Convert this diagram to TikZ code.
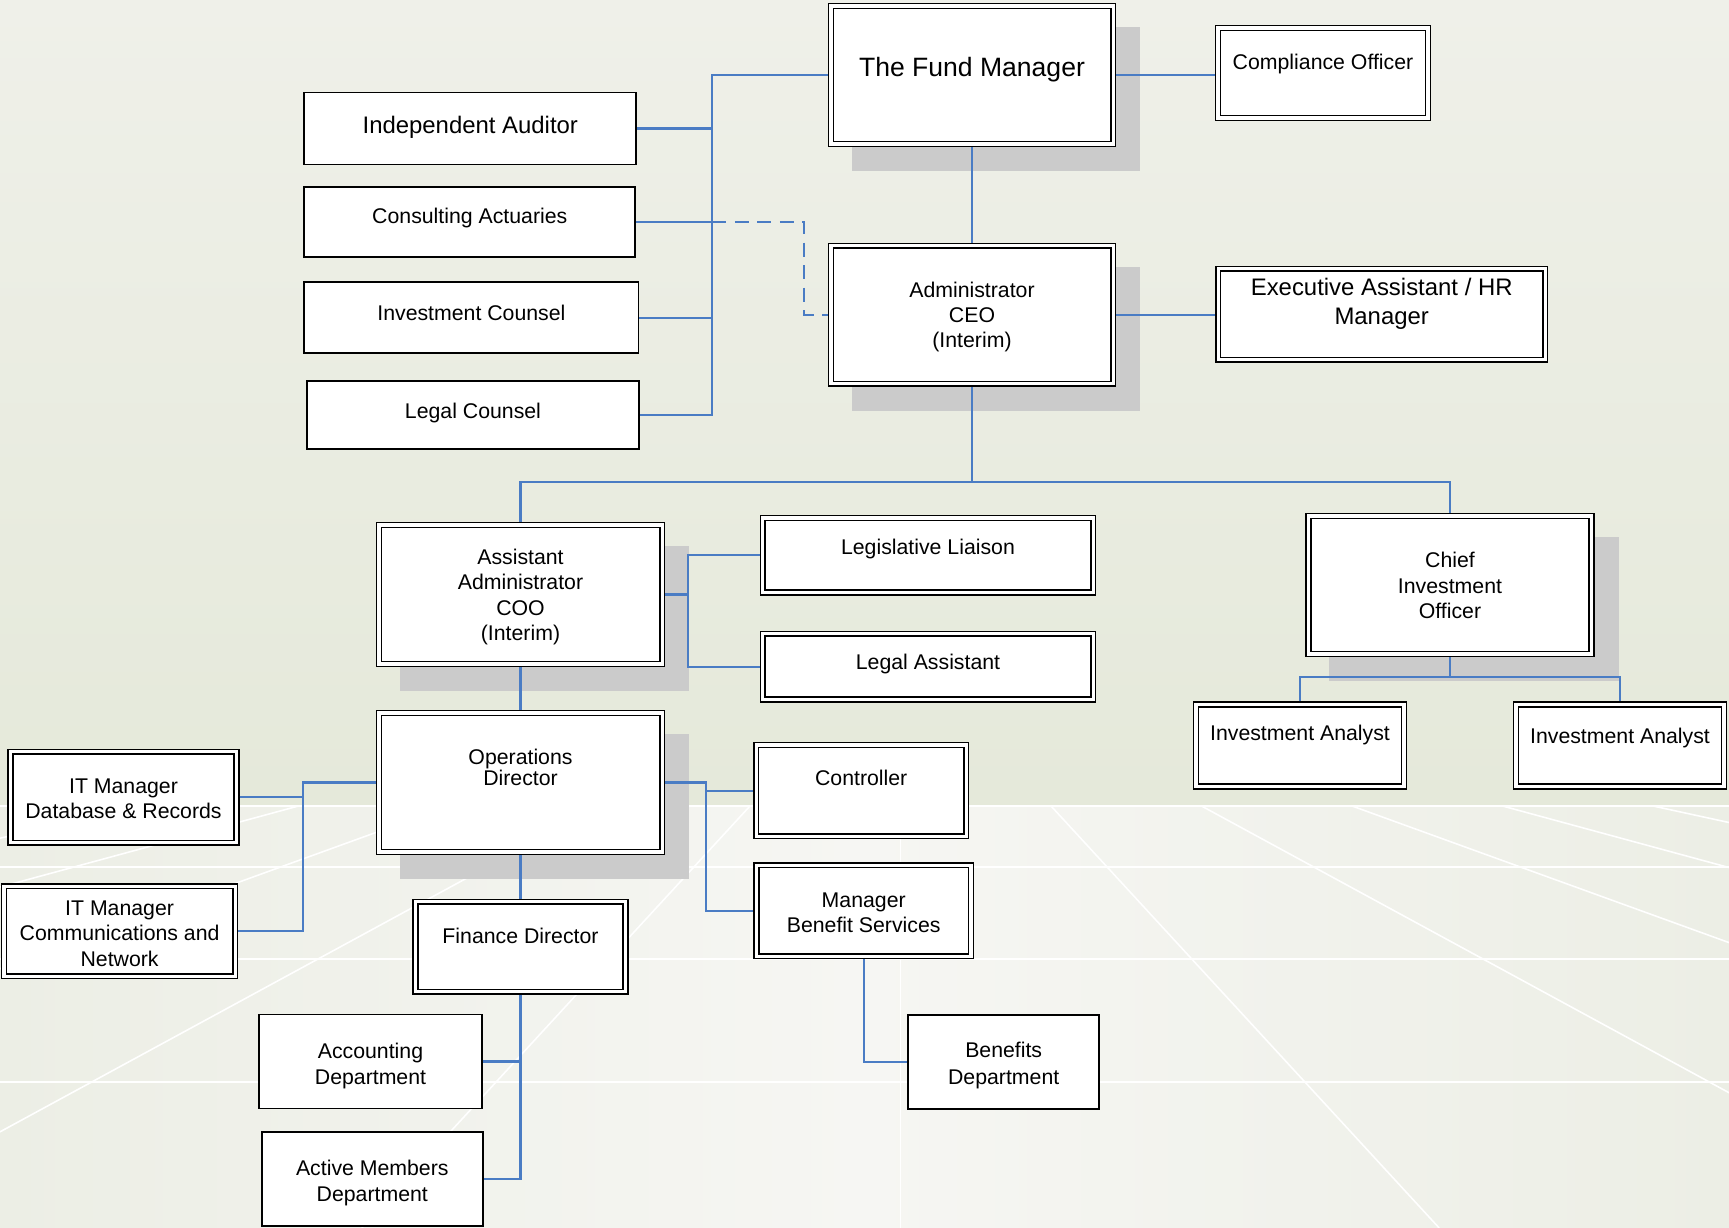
\documentclass[tikz,border=0pt]{standalone}
\usepackage{fontspec}
\setmainfont{Liberation Sans}
\usetikzlibrary{backgrounds}

\definecolor{linkblue}{HTML}{4A7CC4}
\definecolor{shadowgrey}{HTML}{CBCBCB}
\definecolor{skytop}{HTML}{EFF0E9}
\definecolor{skybottom}{HTML}{E5E9DA}
\definecolor{flooredge}{HTML}{ECEEE5}
\definecolor{floormid}{HTML}{F6F6F3}

\newcommand{\orgfont}{\fontsize{6.05}{7.25}\selectfont}
\newcommand{\midorgfont}{\fontsize{6.8}{8.4}\selectfont}
\newcommand{\bigorgfont}{\fontsize{7.55}{9}\selectfont}

\tikzset{
	dbox/.style={draw=black,line width=0.45pt,double=white,double distance=0.9pt,fill=white,inner sep=0pt,outer sep=0.9pt},
	sbox/.style={draw=black,line width=0.55pt,fill=white,inner sep=0pt,outer sep=0.275pt},
	txt/.style={font=\orgfont,align=center,inner sep=0pt},
	link/.style={draw=linkblue,line width=0.6pt},
	dashlink/.style={link,dash pattern=on 4pt off 2.4pt},
	floorline/.style={draw=white,line width=0.45pt},
	boxshadow/.style={fill=shadowgrey},
}

\begin{document}
\begin{tikzpicture}[x=0.01cm,y=-0.01cm]
		\useasboundingbox (0,0) rectangle (1729,1228);
		\begin{pgfonlayer}{background}
			\fill[top color=skytop,bottom color=skybottom] (0,0) rectangle (1729,806);
			\begin{scope}
				\clip (0,806) rectangle (1729,1228);
				\fill[left color=flooredge,right color=flooredge,middle color=floormid] (0,806) rectangle (1729,1228);
				\foreach \k in {-5,...,5}
					\draw[floorline] ({900.5+150.5*\k},806) -- ({900.5+538.7*\k},1228);
				\foreach \yy in {867,959,1082}
					\draw[floorline] (0,\yy) -- (1729,\yy);
			\end{scope}
			\draw[floorline,line width=0.7pt] (0,806) -- (1729,806);
		\end{pgfonlayer}
		
		\node[dbox,minimum width=2.82cm,minimum height=1.38cm] (fund) at (972,75) {};
		\node[txt,font=\bigorgfont] (fund-t) at (972,69.5) {The Fund Manager};
		\node[dbox,minimum width=2.10cm,minimum height=0.90cm] (comp) at (1323,73) {};
		\node[txt] (comp-t) at (1323,64) {Compliance Officer};
		
		\node[sbox,minimum width=3.32cm,minimum height=0.72cm] (aud) at (470.3,128.5) {};
		\node[txt,font=\midorgfont] (aud-t) at (470.3,127) {Independent Auditor};
		\node[sbox,minimum width=3.31cm,minimum height=0.70cm] (act) at (469.8,222.2) {};
		\node[txt] (act-t) at (469.8,218) {Consulting Actuaries};
		\node[sbox,minimum width=3.34cm,minimum height=0.71cm] (invc) at (471.4,317.6) {};
		\node[txt] (invc-t) at (471.4,313) {Investment Counsel};
		\node[sbox,minimum width=3.31cm,minimum height=0.675cm] (legc) at (473,415.2) {};
		\node[txt] (legc-t) at (473,413) {Legal Counsel};
		
		\node[dbox,minimum width=2.82cm,minimum height=1.38cm] (ceo) at (972,314.8) {};
		\node[txt] (ceo-t) at (972,317) {Administrator\\CEO\\(Interim)};
		\node[dbox,minimum width=3.27cm,minimum height=0.91cm] (exec) at (1381.7,314.3) {};
		\node[txt,font=\midorgfont] (exec-t) at (1381.7,304) {Executive Assistant / HR\\Manager};
		
		\node[dbox,minimum width=2.83cm,minimum height=1.39cm] (coo) at (520.5,594.5) {};
		\node[txt] (coo-t) at (520.5,597) {Assistant\\Administrator\\COO\\(Interim)};
		\node[dbox,minimum width=3.30cm,minimum height=0.745cm] (lleg) at (928,555.2) {};
		\node[txt] (lleg-t) at (928,549) {Legislative Liaison};
		\node[dbox,minimum width=3.30cm,minimum height=0.657cm] (lasst) at (928,666.6) {};
		\node[txt] (lasst-t) at (928,664) {Legal Assistant};
		
		\node[dbox,minimum width=2.83cm,minimum height=1.38cm] (cio) at (1450,585) {};
		\node[txt] (cio-t) at (1450,585.5) {Chief\\Investment\\Officer};
		\node[dbox,minimum width=2.08cm,minimum height=0.82cm] (an1) at (1300,745.5) {};
		\node[txt] (an1-t) at (1300,735.5) {Investment Analyst};
		\node[dbox,minimum width=2.08cm,minimum height=0.82cm] (an2) at (1620,745.5) {};
		\node[txt] (an2-t) at (1620,738.5) {Investment Analyst};
		
		\node[dbox,minimum width=2.83cm,minimum height=1.39cm] (ops) at (520.5,782.5) {};
		\node[txt,font=\fontsize{6.05}{6}\selectfont] (ops-t) at (520.5,767) {Operations\\Director};
		\node[dbox,minimum width=2.256cm,minimum height=0.91cm] (itdb) at (123.5,797.2) {};
		\node[txt] (itdb-t) at (123.5,799) {IT Manager\\Database \& Records};
		\node[dbox,minimum width=2.31cm,minimum height=0.90cm] (itcom) at (119.6,931.2) {};
		\node[txt] (itcom-t) at (119.6,933.7) {IT Manager\\Communications and\\Network};
		\node[dbox,minimum width=2.10cm,minimum height=0.90cm] (fin) at (520.5,946.7) {};
		\node[txt] (fin-t) at (520.5,936) {Finance Director};
		
		\node[dbox,minimum width=2.10cm,minimum height=0.91cm] (ctrl) at (861.2,790.6) {};
		\node[txt] (ctrl-t) at (861.2,778) {Controller};
		\node[dbox,minimum width=2.146cm,minimum height=0.91cm] (mbs) at (863.7,910.7) {};
		\node[txt] (mbs-t) at (863.7,913) {Manager\\Benefit Services};
		
		\node[sbox,minimum width=1.91cm,minimum height=0.94cm] (ben) at (1003.7,1062) {};
		\node[txt,font=\fontsize{6.05}{7.5}\selectfont] (ben-t) at (1003.7,1065.5) {Benefits\\Department};
		\node[sbox,minimum width=2.22cm,minimum height=0.94cm] (acc) at (370.5,1061.5) {};
		\node[txt] (acc-t) at (370.5,1066) {Accounting\\Department};
		\node[sbox,minimum width=2.21cm,minimum height=0.94cm] (amem) at (372.3,1178.7) {};
		\node[txt] (amem-t) at (372.3,1183) {Active Members\\Department};
		
		\begin{pgfonlayer}{background}
			\foreach \b in {fund,ceo,coo,cio,ops}
				\fill[boxshadow] ([shift={(24,24)}]\b.north west) rectangle ([shift={(24,24)}]\b.south east);
		\end{pgfonlayer}
		
		\coordinate (advx) at (712.3,0);
		\coordinate (dashx) at (804.3,0);
		\coordinate (mgmt) at (972,482);
		\coordinate (coox) at (688.3,0);
		\coordinate (itx) at (302.7,0);
		\coordinate (ctlx) at (705.7,0);
		\coordinate (cioy) at (0,676.7);
		
		\draw[link] (fund.west) -- (fund.west -| advx) -- (legc.east -| advx) -- (legc.east);
		\draw[link] (aud.east) -- (aud.east -| advx);
		\draw[link] (act.east) -- (act.east -| advx);
		\draw[link] (invc.east) -- (invc.east -| advx);
		\draw[dashlink] (act.east -| advx) -- (act.east -| dashx) |- (ceo.west);
		
		\draw[link] (fund.east) -- (fund.east -| comp.west);
		\draw[link] (fund.south) -- (ceo.north);
		\draw[link] (ceo.east) -- (ceo.east -| exec.west);
		
		\draw[link] (ceo.south) -- (mgmt);
		\draw[link] (coo.north) |- (mgmt) -| (cio.north);
		
		\draw[link] (coo.east) -- (coo.east -| coox);
		\draw[link] (lleg.west) -- (lleg.west -| coox) -- (lasst.west -| coox) -- (lasst.west);
		
		\draw[link] (cio.south) -- (cio.south |- cioy);
		\draw[link] (an1.north) |- (cio.south |- cioy) -| (an2.north);
		
		\draw[link] (coo.south) -- (ops.north);
		\draw[link] (ops.south) -- (fin.north);
		
		\draw[link] (ops.west) -- (ops.west -| itx) -- (itcom.east -| itx) -- (itcom.east);
		\draw[link] (itdb.east) -- (itdb.east -| itx);
		
		\draw[link] (ops.east) -- (ops.east -| ctlx) -- (mbs.west -| ctlx) -- (mbs.west);
		\draw[link] (ctrl.west) -- (ctrl.west -| ctlx);
		\draw[link] (mbs.south) |- (ben.west);
		
		\draw[link] (fin.south) |- (amem.east);
		\draw[link] (acc.east) -- (acc.east -| fin.south);
	\end{tikzpicture}
\end{document}
